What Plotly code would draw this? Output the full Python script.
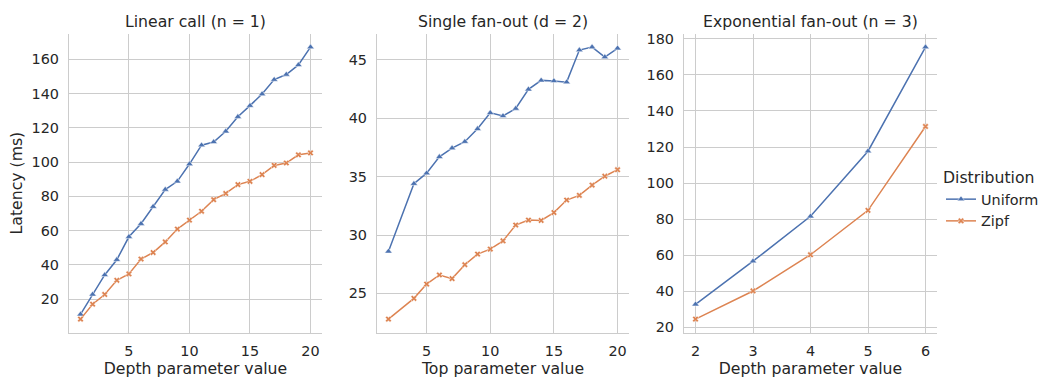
import plotly.graph_objects as go
from plotly.subplots import make_subplots

# Linear call (n = 1): latency against depth
linear_depth = list(range(1, 21))
linear_uniform = [11.1, 22.7, 34.1, 43.0, 56.4, 64.0, 74.0, 84.0, 88.8, 98.9,
                  109.9, 111.8, 118.0, 126.5, 133.0, 139.8, 148.2, 151.2, 156.8, 167.2]
linear_zipf = [8.3, 17.0, 22.7, 31.0, 34.7, 43.4, 47.2, 53.4, 60.9, 66.1,
               71.3, 78.1, 81.7, 86.9, 88.8, 92.7, 98.1, 99.5, 104.3, 105.4]

# Single fan-out (d = 2): latency against top
fanout_top = [2, 4, 5, 6, 7, 8, 9, 10, 11, 12, 13, 14, 15, 16, 17, 18, 19, 20]
fanout_uniform = [28.6, 34.4, 35.3, 36.7, 37.45, 38.0, 39.1, 40.47, 40.2, 40.84,
                  42.48, 43.25, 43.2, 43.1, 45.85, 46.1, 45.25, 46.0]
fanout_zipf = [22.8, 24.58, 25.8, 26.58, 26.27, 27.46, 28.37, 28.8, 29.5, 30.86,
               31.28, 31.25, 31.93, 33.0, 33.4, 34.28, 35.04, 35.6]

# Exponential fan-out (n = 3): latency against depth
expo_depth = [2, 3, 4, 5, 6]
expo_uniform = [32.8, 56.7, 81.6, 117.7, 175.4]
expo_zipf = [24.6, 40.2, 60.3, 84.9, 131.4]

titles = ["Linear call (n = 1)", "Single fan-out (d = 2)", "Exponential fan-out (n = 3)"]
xlabels = ["Depth parameter value", "Top parameter value", "Depth parameter value"]
ylabel = "Latency (ms)"
series_names = ["Uniform", "Zipf"]

x_ticks = [[5, 10, 15, 20], [5, 10, 15, 20], [2, 3, 4, 5, 6]]
y_ticks = [list(range(20, 161, 20)), [25, 30, 35, 40, 45], list(range(20, 181, 20))]

panels = [
    (linear_depth, linear_uniform, linear_zipf),
    (fanout_top, fanout_uniform, fanout_zipf),
    (expo_depth, expo_uniform, expo_zipf),
]

BLUE = "#4c72b0"
ORANGE = "#dd8452"
GRID = "#cccccc"
TEXT = "#262626"
FONT = "DejaVu Sans"
TICK_SIZE = 14.4
LABEL_SIZE = 15.7

W, H = 1046, 381
x_dom_px = [(69, 322), (377, 629), (684, 937)]
y_dom_px = (31, 335)

fig = make_subplots(rows=1, cols=3)


def padded(vals, frac=0.05):
    lo, hi = min(vals), max(vals)
    pad = (hi - lo) * frac
    return [lo - pad, hi + pad]


for i, (xs, uni, zipf) in enumerate(panels):
    col = i + 1
    fig.add_trace(go.Scatter(
        x=xs, y=uni, mode="lines+markers", name=series_names[0],
        line=dict(color=BLUE, width=1.5),
        marker=dict(symbol="triangle-up", size=6.5, color=BLUE,
                    line=dict(color="white", width=0.5)),
        legendgroup="u", showlegend=(i == 2),
    ), row=1, col=col)
    fig.add_trace(go.Scatter(
        x=xs, y=zipf, mode="lines+markers", name=series_names[1],
        line=dict(color=ORANGE, width=1.5),
        marker=dict(symbol="x", size=5.5, color=ORANGE,
                    line=dict(color="white", width=0.5)),
        legendgroup="z", showlegend=(i == 2),
    ), row=1, col=col)

    xd = [x_dom_px[i][0] / W, x_dom_px[i][1] / W]
    yd = [(H - y_dom_px[1]) / H, (H - y_dom_px[0]) / H]
    fig.update_xaxes(
        domain=xd, range=padded(xs), tickvals=x_ticks[i],
        showgrid=True, gridcolor=GRID, gridwidth=1,
        showline=True, linecolor=GRID, linewidth=1.2,
        zeroline=False, ticks="outside", ticklen=5, tickcolor="rgba(0,0,0,0)",
        tickfont=dict(family=FONT, size=TICK_SIZE, color=TEXT),
        title=dict(text=xlabels[i], font=dict(family=FONT, size=LABEL_SIZE, color=TEXT),
                   standoff=3),
        row=1, col=col,
    )
    fig.update_yaxes(
        domain=yd, range=padded(uni + zipf), tickvals=y_ticks[i],
        showgrid=True, gridcolor=GRID, gridwidth=1,
        showline=True, linecolor=GRID, linewidth=1.2,
        zeroline=False, ticks="outside", ticklen=6, tickcolor="rgba(0,0,0,0)",
        tickfont=dict(family=FONT, size=TICK_SIZE, color=TEXT),
        row=1, col=col,
    )
    fig.add_annotation(
        text=titles[i], xref="paper", yref="paper",
        x=(xd[0] + xd[1]) / 2, y=yd[1], yanchor="bottom", xanchor="center",
        yshift=1, showarrow=False,
        font=dict(family=FONT, size=LABEL_SIZE, color=TEXT),
    )

fig.update_yaxes(title=dict(text=ylabel, font=dict(family=FONT, size=LABEL_SIZE, color=TEXT),
                            standoff=5), row=1, col=1)

fig.update_layout(
    width=W, height=H,
    margin=dict(l=0, r=0, t=0, b=0),
    paper_bgcolor="white", plot_bgcolor="white",
    font=dict(family=FONT, color=TEXT),
    legend=dict(
        title=dict(text="Distribution", font=dict(family=FONT, size=LABEL_SIZE, color=TEXT)),
        font=dict(family=FONT, size=TICK_SIZE, color=TEXT),
        x=941 / W, xanchor="left", y=0.475, yanchor="middle",
        bgcolor="rgba(0,0,0,0)", itemwidth=30, tracegroupgap=0,
    ),
)

fig.write_html("out.html")
